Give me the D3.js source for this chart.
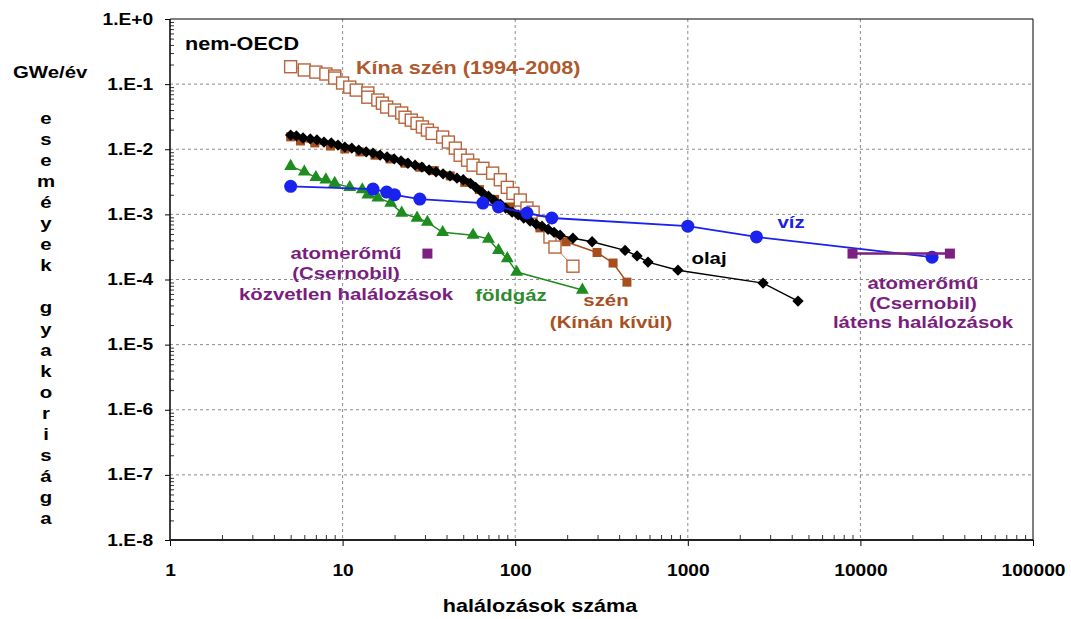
<!DOCTYPE html>
<html>
<head>
<meta charset="utf-8">
<script src="https://cdn.jsdelivr.net/npm/d3@7"></script>
<style>
  html, body { margin: 0; padding: 0; background: #fff; }
  svg { display: block; font-family: "Liberation Sans", Arial, sans-serif; font-weight: bold; }
</style>
</head>
<body>
<svg id="chart" width="1071" height="619"></svg>
<script>
// Axis tick labels
const xTickValues = [1, 10, 100, 1000, 10000, 100000];
const xTickLabels = ["1", "10", "100", "1000", "10000", "100000"];
const yTickValues = [1, 1e-1, 1e-2, 1e-3, 1e-4, 1e-5, 1e-6, 1e-7, 1e-8];
const yTickLabels = ["1.E+0", "1.E-1", "1.E-2", "1.E-3", "1.E-4", "1.E-5", "1.E-6", "1.E-7", "1.E-8"];

// China coal 1994-2008 (open squares)
const kinaDeaths = [5, 6, 7, 8, 9, 9, 10, 11, 12, 14, 14, 16, 17, 18, 20, 22, 23, 25, 27, 29, 31, 33, 38, 41, 45, 48, 53, 57, 65, 74, 82, 90, 97, 107, 117, 127, 145, 159, 170, 216];
const kinaFreq = [0.185, 0.165, 0.153, 0.143, 0.133, 0.124, 0.104, 0.090, 0.081, 0.073, 0.063, 0.057, 0.051, 0.0445, 0.040, 0.036, 0.031, 0.028, 0.025, 0.022, 0.0197, 0.0175, 0.0154, 0.0129, 0.0104, 0.0081, 0.0068, 0.0057, 0.0051, 0.0043, 0.0034, 0.0026, 0.0021, 0.00166, 0.00125, 0.00108, 0.00076, 0.00045, 0.000315, 0.00016];

// Coal outside China (filled squares)
const coalDeaths = [5, 5.7, 6.9, 8.5, 10.3, 12.6, 15.4, 18.8, 23, 28, 34, 42, 51, 62, 76, 93, 114, 139, 197, 298, 369, 444];
const coalFreq = [0.0155, 0.0134, 0.0125, 0.0112, 0.0101, 0.0091, 0.0081, 0.0071, 0.0061, 0.0053, 0.0047, 0.0039, 0.0031, 0.0024, 0.0017, 0.0013, 0.00098, 0.00062, 0.00038, 0.00026, 0.000179, 0.000091];

// Oil (diamonds)
const oilDeaths = [5, 5.4, 5.9, 6.5, 7.1, 7.8, 8.6, 9.4, 10.3, 11.3, 12.4, 13.7, 15, 16.5, 18.1, 19.9, 21.8, 23.9, 26.3, 28.8, 31.7, 34.8, 38.2, 41.9, 46, 50, 55, 59, 64, 70, 75, 82, 88, 96, 104, 112, 122, 132, 143, 155, 168, 182, 216, 279, 433, 508, 588, 877, 2729, 4350];
const oilFreq = [0.0165, 0.0160, 0.0149, 0.0144, 0.0139, 0.0129, 0.0125, 0.0116, 0.0108, 0.0104, 0.0097, 0.0091, 0.0087, 0.0081, 0.0076, 0.0071, 0.0066, 0.0061, 0.0057, 0.0053, 0.0048, 0.0045, 0.0042, 0.0039, 0.0036, 0.0034, 0.0030, 0.0026, 0.0022, 0.0019, 0.00166, 0.00144, 0.00125, 0.00108, 0.00098, 0.00088, 0.00079, 0.00071, 0.00066, 0.00059, 0.00053, 0.00048, 0.00043, 0.00038, 0.00028, 0.00023, 0.000185, 0.000139, 0.000088, 0.0000466];

// Natural gas (triangles)
const gasDeaths = [5, 6, 7, 8, 9, 11, 13, 14, 16, 19, 22, 27, 31, 38, 57, 70, 80, 90, 102, 245];
const gasFreq = [0.0055, 0.0045, 0.0037, 0.0034, 0.0030, 0.0026, 0.0024, 0.0020, 0.0018, 0.0015, 0.00105, 0.00088, 0.00076, 0.00053, 0.00048, 0.00042, 0.00028, 0.00021, 0.00013, 0.000069];

// Hydro (circles)
const hydroDeaths = [5, 15, 18, 20, 28, 65, 80, 117, 163, 1000, 2500, 26000];
const hydroFreq = [0.0027, 0.00245, 0.0022, 0.0020, 0.00172, 0.00149, 0.0013, 0.00105, 0.00088, 0.00066, 0.00045, 0.00022];

// Nuclear, Chernobyl: immediate and latent fatalities
const nuclearDirectDeaths = [31];
const nuclearDirectFreq = [0.00025];
const nuclearLatentDeaths = [9000, 33000];
const nuclearLatentFreq = [0.00025, 0.00025];

const svg = d3.select("#chart");
const X0 = 170, X1 = 1033, Y0 = 19, Y1 = 540;
const x = d3.scaleLog().domain([1, 1e5]).range([X0, X1]);
const y = d3.scaleLog().domain([1e-8, 1]).range([Y1, Y0]);
const SX = 1.2; // horizontal stretch of the lettering

function zip(xs, ys) { return xs.map((d, i) => ({ x: d, y: ys[i] })); }

function label(txt, px, py, opts = {}) {
  svg.append("text")
    .attr("transform", `translate(${px},${py}) scale(${SX},1)`)
    .attr("text-anchor", opts.anchor || "middle")
    .attr("fill", opts.color || "#000")
    .attr("font-size", opts.size || 17)
    .text(txt);
}

// Grid
const grid = svg.append("g").attr("stroke", "#8a8a8a").attr("stroke-width", 1).attr("stroke-dasharray", "3,3");
grid.selectAll("line.h").data(yTickValues.slice(1, -1)).join("line")
  .attr("x1", X0).attr("x2", X1).attr("y1", d => y(d)).attr("y2", d => y(d));
grid.selectAll("line.v").data(xTickValues.slice(1, -1)).join("line")
  .attr("y1", Y0).attr("y2", Y1).attr("x1", d => x(d)).attr("x2", d => x(d));

// Minor tick values
const minors = (lo, hi) => {
  const out = [];
  for (let e = lo; e < hi; e++) for (let m = 2; m <= 9; m++) out.push(m * Math.pow(10, e));
  return out;
};

// Y axis
const yAxis = svg.append("g").attr("transform", `translate(${X0},0)`)
  .call(d3.axisLeft(y).tickValues(yTickValues).tickFormat((d, i) => yTickLabels[i]).tickSize(5));
yAxis.select(".domain").remove();
yAxis.selectAll("text").attr("x", -14).attr("font-size", 16).attr("font-weight", "bold")
  .attr("font-family", "Liberation Sans, Arial, sans-serif").attr("fill", "#000")
  .attr("transform", `scale(${SX},1)`);
yAxis.selectAll("line").attr("stroke", "#000");
const yMinor = svg.append("g").attr("transform", `translate(${X0},0)`)
  .call(d3.axisLeft(y).tickValues(minors(-8, 0)).tickFormat("").tickSize(-4));
yMinor.select(".domain").remove();
yMinor.selectAll("line").attr("stroke", "#333");

// X axis
const xAxis = svg.append("g").attr("transform", `translate(0,${Y1})`)
  .call(d3.axisBottom(x).tickValues(xTickValues).tickFormat((d, i) => xTickLabels[i]).tickSize(6));
xAxis.select(".domain").remove();
xAxis.selectAll("text").attr("y", 36).attr("dy", 0).attr("font-size", 16).attr("font-weight", "bold")
  .attr("font-family", "Liberation Sans, Arial, sans-serif").attr("fill", "#000")
  .attr("transform", `scale(${SX},1)`);
xAxis.selectAll("line").attr("stroke", "#000");
const xMinor = svg.append("g").attr("transform", `translate(0,${Y1})`)
  .call(d3.axisBottom(x).tickValues(minors(0, 5)).tickFormat("").tickSize(-5));
xMinor.select(".domain").remove();
xMinor.selectAll("line").attr("stroke", "#333");

// Frame
svg.append("line").attr("x1", X0).attr("x2", X0).attr("y1", Y0).attr("y2", Y1).attr("stroke", "#000").attr("stroke-width", 1.5);
svg.append("line").attr("x1", X0).attr("x2", X1).attr("y1", Y1).attr("y2", Y1).attr("stroke", "#222").attr("stroke-width", 2);
svg.append("line").attr("x1", X0).attr("x2", X1).attr("y1", Y0).attr("y2", Y0).attr("stroke", "#000").attr("stroke-width", 1);
svg.append("line").attr("x1", X1).attr("x2", X1).attr("y1", Y0).attr("y2", Y1).attr("stroke", "#000").attr("stroke-width", 1);

const line = d3.line().x(d => x(d.x)).y(d => y(d.y));
const plot = svg.append("g");

// China coal
const kina = zip(kinaDeaths, kinaFreq);
plot.append("path").datum(kina).attr("d", line).attr("fill", "none").attr("stroke", "#c07a55").attr("stroke-width", 1);
plot.selectAll("rect.kina").data(kina).join("rect").attr("class", "kina")
  .attr("x", d => x(d.x) - 6).attr("y", d => y(d.y) - 6).attr("width", 12).attr("height", 12)
  .attr("fill", "#fff").attr("stroke", "#b8643c").attr("stroke-width", 1.4);

// Coal outside China
const coal = zip(coalDeaths, coalFreq);
plot.append("path").datum(coal).attr("d", line).attr("fill", "none").attr("stroke", "#a84e1c").attr("stroke-width", 1.5);
plot.selectAll("rect.coal").data(coal).join("rect").attr("class", "coal")
  .attr("x", d => x(d.x) - 4.5).attr("y", d => y(d.y) - 4.5).attr("width", 9).attr("height", 9)
  .attr("fill", "#a84e1c");

// Oil
const oil = zip(oilDeaths, oilFreq);
plot.append("path").datum(oil).attr("d", line).attr("fill", "none").attr("stroke", "#000").attr("stroke-width", 1.5);
plot.selectAll("path.oil").data(oil).join("path").attr("class", "oil")
  .attr("d", d3.symbol(d3.symbolSquare, 64))
  .attr("transform", d => `translate(${x(d.x)},${y(d.y)}) rotate(45)`)
  .attr("fill", "#000");

// Natural gas
const gas = zip(gasDeaths, gasFreq);
plot.append("path").datum(gas).attr("d", line).attr("fill", "none").attr("stroke", "#1e8c1e").attr("stroke-width", 1.5);
plot.selectAll("path.gas").data(gas).join("path").attr("class", "gas")
  .attr("d", d3.symbol(d3.symbolTriangle, 72))
  .attr("transform", d => `translate(${x(d.x)},${y(d.y)})`)
  .attr("fill", "#1e8c1e");

// Hydro
const hydro = zip(hydroDeaths, hydroFreq);
plot.append("path").datum(hydro).attr("d", line).attr("fill", "none").attr("stroke", "#1a22ee").attr("stroke-width", 1.8);
plot.selectAll("circle.hydro").data(hydro).join("circle").attr("class", "hydro")
  .attr("cx", d => x(d.x)).attr("cy", d => y(d.y)).attr("r", 6.5)
  .attr("fill", "#1a22ee");

// Nuclear (Chernobyl)
const nucDirect = zip(nuclearDirectDeaths, nuclearDirectFreq);
const nucLatent = zip(nuclearLatentDeaths, nuclearLatentFreq);
plot.append("path").datum(nucLatent).attr("d", line).attr("fill", "none").attr("stroke", "#7d1f80").attr("stroke-width", 2.5);
plot.selectAll("rect.nuc").data(nucDirect.concat(nucLatent)).join("rect").attr("class", "nuc")
  .attr("x", d => x(d.x) - 5).attr("y", d => y(d.y) - 5).attr("width", 10).attr("height", 10)
  .attr("fill", "#7d1f80");

// Annotations
label("nem-OECD", 185, 50, { anchor: "start", size: 18 });
label("Kína szén (1994-2008)", 356, 74, { anchor: "start", size: 18, color: "#ad5a2e" });
const purple = "#7a1e7e";
label("atomerőmű", 346, 259, { color: purple });
label("(Csernobil)", 346, 279, { color: purple });
label("közvetlen halálozások", 346, 300, { color: purple });
label("földgáz", 511, 301, { color: "#2e8b2e" });
label("szén", 606, 306, { color: "#a8501e" });
label("(Kínán kívül)", 611, 328, { color: "#a8501e" });
label("olaj", 709, 264, { color: "#000" });
label("víz", 791, 228, { color: "#1a22dd" });
label("atomerőmű", 923, 289, { color: purple });
label("(Csernobil)", 923, 309, { color: purple });
label("látens halálozások", 923, 328, { color: purple });

// Axis titles
label("GWe/év", 13, 78, { anchor: "start", size: 17 });
const yTitleLetters = ["e", "s", "e", "m", "é", "y", "e", "k", "", "g", "y", "a", "k", "o", "r", "i", "s", "á", "g", "a"];
yTitleLetters.forEach((ch, i) => { if (ch) label(ch, 46, 124 + i * 21.05, { size: 17 }); });
label("halálozások száma", 540, 612, { size: 18 });
</script>
</body>
</html>
